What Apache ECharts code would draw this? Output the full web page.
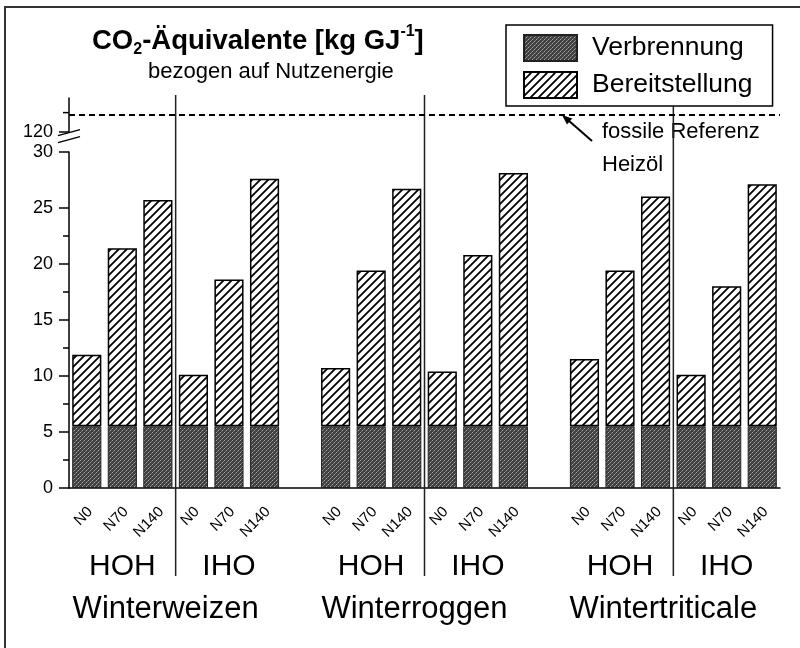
<!DOCTYPE html>
<html>
<head>
<meta charset="utf-8">
<script src="https://cdn.jsdelivr.net/npm/echarts@6.0.0/dist/echarts.min.js"></script>
<style>
html,body{margin:0;padding:0;background:#fff}
#main{width:800px;height:648px}
</style>
</head>
<body>
<div id="main"></div>
<script>
// Daten
var categories = ['N0','N70','N140','N0','N70','N140','',
                  'N0','N70','N140','N0','N70','N140','',
                  'N0','N70','N140','N0','N70','N140'];
var verbrennung = [5.5,5.5,5.5,5.5,5.5,5.5,'-',
                   5.5,5.5,5.5,5.5,5.5,5.5,'-',
                   5.5,5.5,5.5,5.5,5.5,5.5];
var bereitstellung = [6.4,15.9,20.2,4.6,13.1,22.1,'-',
                      5.2,13.9,21.2,4.9,15.3,22.6,'-',
                      6.0,13.9,20.5,4.6,12.5,21.6];
var systems = ['HOH','IHO','HOH','IHO','HOH','IHO'];
var systemIdx = [1,4,8,11,15,18];
var crops = ['Winterweizen','Winterroggen','Wintertriticale'];
var cropRange = [[0,5],[7,12],[14,19]];
var fossilRef = 121.5;
var yBreak = [30,120];

var FONT = 'Liberation Sans, Arial, sans-serif';

// Schraffur fuer Bereitstellung
function hatch(){
	var c = document.createElement('canvas');
	c.width = 8; c.height = 8;
	var g = c.getContext('2d');
	g.fillStyle = '#fff'; g.fillRect(0,0,8,8);
	g.strokeStyle = '#000'; g.lineWidth = 1.8;
	g.beginPath();
	g.moveTo(-2,10); g.lineTo(10,-2);
	g.moveTo(-2,2); g.lineTo(2,-2);
	g.moveTo(6,10); g.lineTo(10,6);
	g.stroke();
	return c;
}
// Raster fuer Verbrennung
function halftone(){
	var c = document.createElement('canvas');
	c.width = 4; c.height = 4;
	var g = c.getContext('2d');
	g.fillStyle = '#404040'; g.fillRect(0,0,4,4);
	g.fillStyle = '#a8a8a8'; g.fillRect(0,0,1,1); g.fillRect(2,2,1,1);
	g.fillStyle = '#777'; g.fillRect(1,3,1,1); g.fillRect(3,1,1,1);
	return c;
}

var chart = echarts.init(document.getElementById('main'));
var option = {
	animation: false,
	textStyle: {fontFamily: FONT},
	title: [{
		text: '{a|CO}{s|2}{a|-Äquivalente [kg GJ}{p|-1}{a|]}',
		left: 92, top: 24, padding: 0,
		textStyle: {rich: {
			a: {fontSize: 27.5, fontWeight: 'bold', color: '#000', fontFamily: FONT, lineHeight: 34},
			s: {fontSize: 16, fontWeight: 'bold', color: '#000', fontFamily: FONT, verticalAlign: 'bottom', lineHeight: 14},
			p: {fontSize: 16, fontWeight: 'bold', color: '#000', fontFamily: FONT, verticalAlign: 'top', lineHeight: 14}
		}}
	}, {
		text: 'bezogen auf Nutzenergie',
		left: 148, top: 61, padding: 0,
		textStyle: {fontSize: 22, fontWeight: 'normal', color: '#000', fontFamily: FONT}
	}],
	legend: {
		orient: 'vertical', left: 506, top: 25,
		backgroundColor: '#fff', borderColor: '#000', borderWidth: 1.5,
		padding: [9,20,7,17], itemWidth: 53, itemHeight: 26, itemGap: 9,
		icon: 'rect',
		textStyle: {fontSize: 26.5, color: '#000', fontFamily: FONT, padding: [0,0,0,10]},
		data: ['Verbrennung','Bereitstellung']
	},
	grid: {left: 69, right: 20, top: 98, bottom: 160},
	xAxis: {
		type: 'category', data: categories,
		axisLine: {lineStyle: {color: '#000', width: 1.5}},
		axisTick: {length: 6, lineStyle: {color: '#000', width: 1.5}},
		axisLabel: {rotate: 45, margin: 25, padding: [0,-5,0,0], fontSize: 15, color: '#000', interval: 0, fontFamily: FONT}
	},
	yAxis: {
		type: 'value', min: 0, max: 123, interval: 5,
		breaks: [{start: yBreak[0], end: yBreak[1], gap: 1.8}],
		breakArea: {show: false},
		splitLine: {show: false},
		axisLine: {show: true, lineStyle: {color: '#000', width: 1.5}},
		axisTick: {show: true, length: 10, lineStyle: {color: '#000', width: 1.5}},
		minorTick: {show: true, splitNumber: 2, length: 6, lineStyle: {color: '#000', width: 1.5}},
		axisLabel: {fontSize: 18, margin: 16, color: '#000', fontFamily: FONT}
	},
	series: [{
		name: 'Verbrennung', type: 'bar', stack: 'a', data: verbrennung, barWidth: '82%',
		itemStyle: {color: {image: halftone(), repeat: 'repeat'}, borderColor: '#222', borderWidth: 1}
	}, {
		name: 'Bereitstellung', type: 'bar', stack: 'a', data: bereitstellung, barWidth: '82%',
		itemStyle: {color: {image: hatch(), repeat: 'repeat'}, borderColor: '#000', borderWidth: 1.5},
		markLine: {
			silent: true, symbol: 'none', label: {show: false},
			lineStyle: {type: [6,4], color: '#000', width: 2},
			data: [{yAxis: fossilRef}]
		}
	}]
};
chart.setOption(option);

// Beschriftungen und Trennlinien
function px(i){ return chart.convertToPixel({xAxisIndex: 0}, i); }
var half = (px(1) - px(0)) / 2;
var y120 = chart.convertToPixel({yAxisIndex: 0}, yBreak[1]);
var g = [];
g.push({type: 'rect', shape: {x: 5, y: 7, width: 820, height: 670}, style: {fill: 'none', stroke: '#333', lineWidth: 2}, z: 0});
[3,10,17].forEach(function(i){
	var x = px(i) - half;
	g.push({type: 'line', shape: {x1: x, y1: 95, x2: x, y2: 576}, style: {stroke: '#222', lineWidth: 1.5}, z: 1});
});
systems.forEach(function(s, k){
	g.push({type: 'text', x: px(systemIdx[k]), y: 567, style: {text: s, font: '30px ' + FONT, fill: '#000', align: 'center', verticalAlign: 'middle'}});
});
crops.forEach(function(s, k){
	var x = (px(cropRange[k][0]) + px(cropRange[k][1])) / 2 - 10;
	g.push({type: 'text', x: x, y: 609, style: {text: s, font: '31px ' + FONT, fill: '#000', align: 'center', verticalAlign: 'middle'}});
});
// Achsenbruch und kleiner Strich oberhalb
g.push({type: 'line', shape: {x1: 58, y1: y120 + 4, x2: 80, y2: y120 - 2}, style: {stroke: '#000', lineWidth: 1.5}, z: 10});
g.push({type: 'line', shape: {x1: 58, y1: y120 + 11, x2: 80, y2: y120 + 5}, style: {stroke: '#000', lineWidth: 1.5}, z: 10});
g.push({type: 'line', shape: {x1: 63, y1: y120 - 19, x2: 69, y2: y120 - 19}, style: {stroke: '#000', lineWidth: 1.5}, z: 10});
// Pfeil und Text
g.push({type: 'line', shape: {x1: 592, y1: 141, x2: 568, y2: 120}, style: {stroke: '#000', lineWidth: 2}, z: 10});
g.push({type: 'polygon', shape: {points: [[562,115],[572.2,118.6],[567,124.6]]}, style: {fill: '#000'}, z: 10});
g.push({type: 'text', x: 602, y: 132, style: {text: 'fossile Referenz', font: '22px ' + FONT, fill: '#000', verticalAlign: 'middle'}});
g.push({type: 'text', x: 602, y: 165, style: {text: 'Heizöl', font: '22px ' + FONT, fill: '#000', verticalAlign: 'middle'}});
chart.setOption({graphic: g});
</script>
</body>
</html>
